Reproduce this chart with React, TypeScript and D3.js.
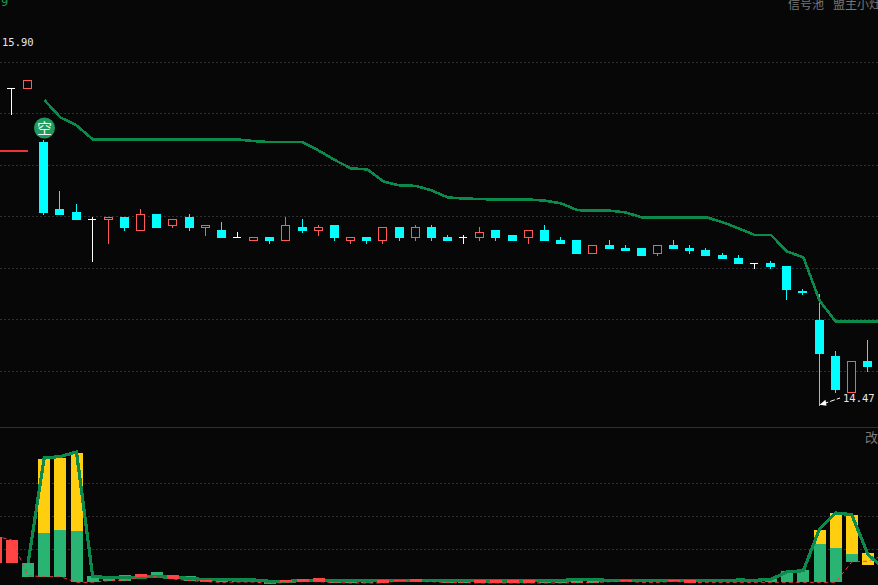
import React from 'react';
import * as d3 from 'd3';

const W = 878, H = 585;
// Price candles
const opens = [15.70,15.70,15.49,15.23,15.22,15.19,15.19,15.20,15.15,15.21,15.17,15.20,15.16,15.15,15.12,15.11,15.12,15.11,15.16,15.15,15.17,15.11,15.12,15.11,15.16,15.12,15.16,15.12,15.12,15.12,15.15,15.13,15.12,15.15,15.11,15.11,15.06,15.09,15.08,15.08,15.06,15.09,15.08,15.07,15.05,15.04,15.02,15.02,15.01,14.91,14.80,14.66,14.52,14.64];
const closes = [15.70,15.73,15.22,15.21,15.19,15.19,15.20,15.16,15.21,15.16,15.19,15.16,15.17,15.12,15.12,15.12,15.11,15.17,15.15,15.16,15.12,15.12,15.11,15.16,15.12,15.16,15.12,15.11,15.12,15.14,15.12,15.11,15.15,15.11,15.10,15.06,15.09,15.08,15.07,15.05,15.09,15.08,15.07,15.05,15.04,15.02,15.02,15.01,14.92,14.909,14.67,14.53,14.64,14.62];
const highs = [15.70,15.73,15.50,15.30,15.25,15.20,15.20,15.20,15.23,15.21,15.19,15.21,15.17,15.18,15.14,15.12,15.12,15.20,15.19,15.17,15.17,15.12,15.12,15.16,15.16,15.17,15.17,15.13,15.13,15.16,15.15,15.13,15.15,15.17,15.12,15.11,15.09,15.11,15.09,15.08,15.09,15.11,15.09,15.08,15.06,15.05,15.02,15.03,15.01,14.92,14.90,14.68,14.64,14.72];
const lows = [15.60,15.70,15.21,15.21,15.19,15.03,15.10,15.15,15.15,15.16,15.16,15.15,15.13,15.12,15.12,15.11,15.10,15.11,15.14,15.13,15.11,15.10,15.10,15.10,15.11,15.11,15.11,15.11,15.10,15.11,15.11,15.11,15.10,15.11,15.10,15.06,15.06,15.08,15.07,15.05,15.05,15.08,15.06,15.05,15.04,15.02,15.00,15.00,14.88,14.90,14.47,14.52,14.52,14.60];
// Trailing stop line, from the third candle on
const trailStart = 2;
const trail = [15.654,15.586,15.555,15.501,15.50,15.50,15.50,15.50,15.50,15.50,15.50,15.50,15.50,15.494,15.49,15.49,15.49,15.457,15.42,15.388,15.384,15.337,15.322,15.32,15.302,15.275,15.271,15.269,15.267,15.267,15.267,15.263,15.252,15.226,15.224,15.224,15.217,15.198,15.198,15.198,15.198,15.198,15.179,15.155,15.129,15.129,15.065,15.043,14.875,14.793,14.793,14.793,14.793];
const priceGrid = [14.6,14.8,15.0,15.2,15.4,15.6,15.8];
const redLevel = 15.455;
const lowLabel = '14.47';
const highLabel = '15.90';

// Lower panel: indices start at -1 (partly clipped bar)
const barIdx = d3.range(-1, 54);
const barBottom = [57,57,17,17,17,0,0,5,5,17,17,10,5,2,0,1,1,-4,0,2,2,-1,-2,-2,-2,5,2,2,-1,-1,-2,-2,-2,-2,-2,-2,-1,-1,2,5,0,0,5,-1,0,0,0,0,0,0,0,0,0,61,52];
const barGreenTop = [137,127,58,148,157,154,19,16,22,25,31,22,19,7,13,10,10,5,7,10,13,10,7,7,7,7,10,10,7,7,7,7,7,7,7,7,13,10,10,7,10,6,7,7,6,6,10,6,10,33,37,115,103,85,52];
const barYellowTop = [
  0,0,0,374,377,391,0,0,0,0,
  0,0,0,0,0,0,0,0,0,0,
  0,0,0,0,0,0,0,0,0,0,
  0,0,0,0,0,0,0,0,0,0,
  0,0,0,0,0,0,0,0,0,0,
  0,160,211,205,88];
const barKinds = 'rrgyyygggrgrgrggggrrrgggrtrgggrrrrgggggtggrrgggggggyyyy';
const energyStart = 1;
const energy = [58,377,381,395,18,14,15,16,17,15,12,8,8,7,7,3,3,5,7,5,5,4,5,5,6,6,5,5,4,4,4,4,5,6,8,8,6,5,6,5,5,5,5,5,7,6,9,32,35,162,210,205,84,42];
const redTrail = [140,128,20,17,17,0,0,5,5,17,17,10,5,2,0,1,1,-4,0,2,2,-1,-2,-2,-2,5,2,2,-1,-1,-2,-2,-2,-2,-2,-2,-1,-1,2,3,0,0,3,-1,0,0,0,0,0,0,0,0,0,62,64,82];
const volumeGrid = [100,200,300];

const BG = '#070707', CYAN = '#00ffff', RED = '#ff5a5a', GREEN = '#0b8a4b';
const x = d3.scaleLinear().domain([0, 53]).range([11.4, 867.46]);
const y = d3.scaleLinear().domain([14.6, 15.8]).range([371.3, 62.3]);
const v = d3.scaleLinear().domain([0, 100]).range([582.3, 549.3]);
const px = (i: number) => Math.floor(x(i));

export default function App() {
  const trailPath = d3.line<number>().x((_, i) => x(i + trailStart) + 0.5).y(d => y(d))(trail)!;
  const energyPath = d3.line<number>().x((_, i) => x(i + energyStart) + 0.5).y(d => v(d))(energy)!;
  const redPath = d3.line<number>().x((_, i) => x(i - 1) + 0.5).y(d => v(d))(redTrail)!;
  const lowX = px(50) + 0.5, lowY = y(14.47);
  return (
    <svg width={W} height={H} viewBox={`0 0 ${W} ${H}`} style={{ position: 'fixed', left: 0, top: 0, background: BG, display: 'block' }}>
      <rect width={W} height={H} fill={BG} />
      {priceGrid.map(p => (
        <line key={p} x1={0} x2={W} y1={Math.floor(y(p)) + 0.5} y2={Math.floor(y(p)) + 0.5} stroke="#303030" strokeDasharray="2 2" />
      ))}
      {volumeGrid.map(t => (
        <line key={t} x1={0} x2={W} y1={Math.floor(v(t)) + 0.5} y2={Math.floor(v(t)) + 0.5} stroke="#303030" strokeDasharray="2 2" />
      ))}
      <line x1={0} x2={W} y1={427.5} y2={427.5} stroke="#303030" />

      <line x1={0} x2={x(1)} y1={y(redLevel)} y2={y(redLevel)} stroke="#ee3333" strokeWidth={2} shapeRendering="crispEdges" />

      <g shapeRendering="crispEdges">
        {opens.map((o, i) => {
          const c = closes[i], cx = px(i);
          const top = Math.round(y(Math.max(o, c))), bot = Math.round(y(Math.min(o, c)));
          const hi = Math.round(y(highs[i])), lo = Math.round(y(lows[i]));
          const wx = cx + 0.5;
          if (o === c) {
            return (
              <g key={i} stroke="#ffffff">
                <line x1={wx} x2={wx} y1={hi} y2={lo + 1} />
                <line x1={cx - 4} x2={cx + 4} y1={top + 0.5} y2={top + 0.5} />
              </g>
            );
          }
          if (c > o) {
            return (
              <g key={i}>
                {hi < top && <line x1={wx} x2={wx} y1={hi} y2={top} stroke={RED} />}
                {lo > bot && <line x1={wx} x2={wx} y1={bot} y2={lo + 1} stroke={RED} />}
                <rect x={cx - 3.5} y={top + 0.5} width={8} height={bot - top} fill={BG} stroke={RED} />
              </g>
            );
          }
          return (
            <g key={i}>
              <line x1={wx} x2={wx} y1={hi} y2={lo + 1} stroke={CYAN} />
              <rect x={cx - 4} y={top} width={9} height={bot - top + 1} fill={CYAN} />
            </g>
          );
        })}
      </g>

      <path d={trailPath} fill="none" stroke={GREEN} strokeWidth={2.6} shapeRendering="crispEdges" />

      <circle cx={44.5} cy={128} r={10.5} fill="#1f9a5c" />
      <text x={44.5} y={133.5} textAnchor="middle" fontSize={15} fontFamily="'Noto Sans CJK SC'" fill="#f4f4f4">空</text>

      <text x={2} y={46} fontSize={10.5} fontFamily="'DejaVu Sans Mono'" fill="#e8e8e8">{highLabel}</text>
      <text x={843} y={402} fontSize={10.5} fontFamily="'DejaVu Sans Mono'" fill="#e8e8e8">{lowLabel}</text>
      <line x1={lowX + 4} x2={840} y1={lowY - 1} y2={398} stroke="#ffffff" strokeDasharray="5 2" />
      <path d={`M${lowX},${lowY} l6,-5 l1,6 z`} fill="#ffffff" />

      <text x={1} y={6} fontSize={12} fontFamily="'DejaVu Sans Mono'" fill="#1f9a4f">9</text>
      <text x={788} y={9} fontSize={12} fontFamily="'Noto Sans CJK SC'" fill="#777777">信号池</text>
      <text x={833} y={9} fontSize={12} fontFamily="'Noto Sans CJK SC'" fill="#777777">盟主小灶</text>
      <text x={865} y={442} fontSize={13} fontFamily="'Noto Sans CJK SC'" fill="#777777">改</text>

      <g shapeRendering="crispEdges">
        {barIdx.map((idx, k) => {
          const kind = barKinds[k];
          const l = px(idx) - 5;
          if (kind === 'r' || kind === 't') return null;
          return (
            <g key={idx}>
              {barYellowTop[k] > 0 && (
                <rect x={l} width={12} y={v(barYellowTop[k])} height={v(barBottom[k]) - v(barYellowTop[k])} fill="#ffce0f" />
              )}
              {barGreenTop[k] > barBottom[k] && (
                <rect x={l} width={12} y={v(barGreenTop[k])} height={v(barBottom[k]) - v(barGreenTop[k])} fill="#29b473" />
              )}
            </g>
          );
        })}
      </g>
      <path d={energyPath} fill="none" stroke={GREEN} strokeWidth={3.2} shapeRendering="crispEdges" />
      <g shapeRendering="crispEdges">
        {barIdx.map((idx, k) => {
          const kind = barKinds[k];
          if (kind !== 'r' && kind !== 't') return null;
          const l = px(idx) - 5;
          return <rect key={idx} x={l} width={12} y={v(barGreenTop[k])} height={v(barBottom[k]) - v(barGreenTop[k])} fill="#ff4444" />;
        })}
      </g>
      <path d={redPath} fill="none" stroke="#f03a3a" strokeWidth={1} strokeDasharray="4 3" />
    </svg>
  );
}
